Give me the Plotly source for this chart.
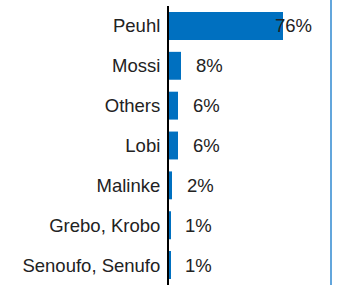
import plotly.graph_objects as go

categories = ["Peuhl", "Mossi", "Others", "Lobi", "Malinke", "Grebo, Krobo", "Senoufo, Senufo"]
values = [76, 8, 6, 6, 2, 1, 1]
labels = ["76%", "8%", "6%", "6%", "2%", "1%", "1%"]

FONT = "Arial, Liberation Sans, sans-serif"

fig = go.Figure()
fig.add_trace(go.Bar(
    y=categories, x=values, orientation="h",
    marker=dict(color="#0070c0", line=dict(width=0)),
    hoverinfo="skip",
))

for c, v, t in zip(categories, values, labels):
    fig.add_annotation(
        x=v, y=c, xref="x", yref="y", text=t, showarrow=False,
        xanchor="center", xshift=10 if v > 50 else 28,
        font=dict(family=FONT, size=18.5, color="#222222"),
    )

fig.add_shape(type="line", xref="paper", yref="paper", x0=1, x1=1, y0=0, y1=1.05,
              layer="above", line=dict(color="#2f88d0", width=1.5))

fig.update_layout(
    width=338, height=285,
    margin=dict(l=169, r=7, t=6, b=0, autoexpand=False),
    paper_bgcolor="white", plot_bgcolor="white",
    showlegend=False, bargap=0.3,
    xaxis=dict(range=[0, 108], showgrid=False, zeroline=False, showticklabels=False,
               showline=False, ticks="", automargin=False),
    yaxis=dict(autorange="reversed", showgrid=False, zeroline=False, automargin=False,
               showline=True, linecolor="black", linewidth=2, ticks="",
               ticklabelstandoff=3,
               tickfont=dict(family=FONT, size=18.5, color="#222222")),
)
fig.write_html("out.html", config={"displayModeBar": False},
               post_script="document.body.style.margin='0';document.body.style.overflow='hidden';")
